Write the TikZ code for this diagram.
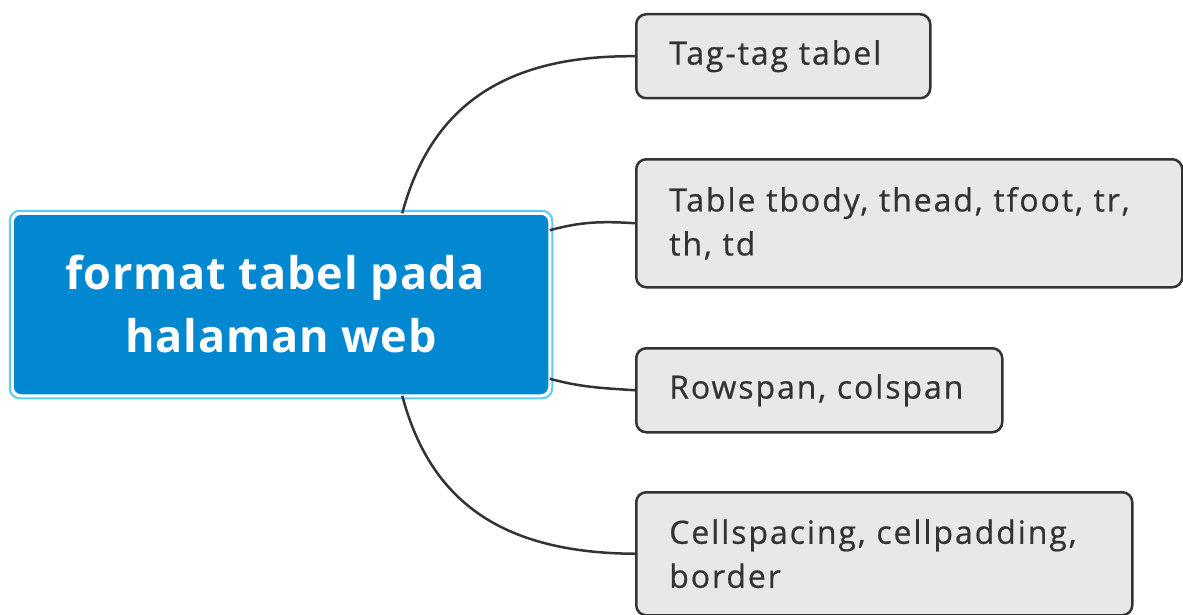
\documentclass[tikz,border=0pt]{standalone}
\usepackage{fontspec}
\setmainfont{Open Sans}
\usetikzlibrary{calc}
\definecolor{mainblue}{RGB}{2,136,209}
\definecolor{lightblue}{RGB}{92,203,250}
\definecolor{childfill}{RGB}{232,232,232}
\definecolor{ink}{RGB}{51,51,51}
\newfontfamily\childfont[LetterSpace=6,FakeBold=0.6]{Open Sans}
\newfontfamily\rootfont[LetterSpace=2]{Open Sans}
\tikzset{
  childbox/.style={draw=ink, fill=childfill, line width=2.5pt, rounded corners=10pt,
    anchor=north west, inner xsep=33pt, inner ysep=0pt, align=left, text=ink,
    font=\childfont\fontsize{32}{44}\selectfont},
  conn/.style={draw=ink, line width=2.5pt},
}
\begin{document}
\begin{tikzpicture}[x=1pt,y=-1pt]
\useasboundingbox (0,0) rectangle (1183,615);
\node (root) [fill=mainblue, draw=white, line width=1.5pt, rounded corners=8pt,
  minimum width=536pt, minimum height=181pt, inner sep=0pt, align=center, text=white,
  font=\rootfont\fontsize{45}{63}\selectfont\bfseries] at (281,304.5)
  {format tabel pada\hspace*{12pt}\\halaman web};
\draw[lightblue, line width=2pt, rounded corners=10pt]
  ($(root.north west)+(-2.5,-2.5)$) rectangle ($(root.south east)+(2.5,2.5)$);

\node (c1) [childbox, minimum width=294pt, minimum height=84pt, text width=228pt] at (635,13) {Tag-tag tabel};
\node (c2) [childbox, minimum width=546pt, minimum height=128pt, text width=480pt] at (635,158) {Table tbody, thead, tfoot, tr,\\th, td};
\node (c3) [childbox, minimum width=366pt, minimum height=84pt, text width=300pt] at (635,347) {Rowspan, colspan};
\node (c4) [childbox, minimum width=496pt, minimum height=123pt, text width=430pt] at (635,491) {Cellspacing, cellpadding,\\border};

\draw[conn] ($(root.north west)+(390,0)$) .. controls (430,110) and (500,55) .. (c1.west);
\draw[conn] ($(root.north east)+(0,17)$) .. controls (580,222) and (600,221) .. (c2.west);
\draw[conn] ($(root.south east)+(0,-17)$) .. controls (580,387) and (600,388) .. (c3.west);
\draw[conn] ($(root.south west)+(390,0)$) .. controls (430,500) and (500,553) .. (c4.west);
\end{tikzpicture}
\end{document}
